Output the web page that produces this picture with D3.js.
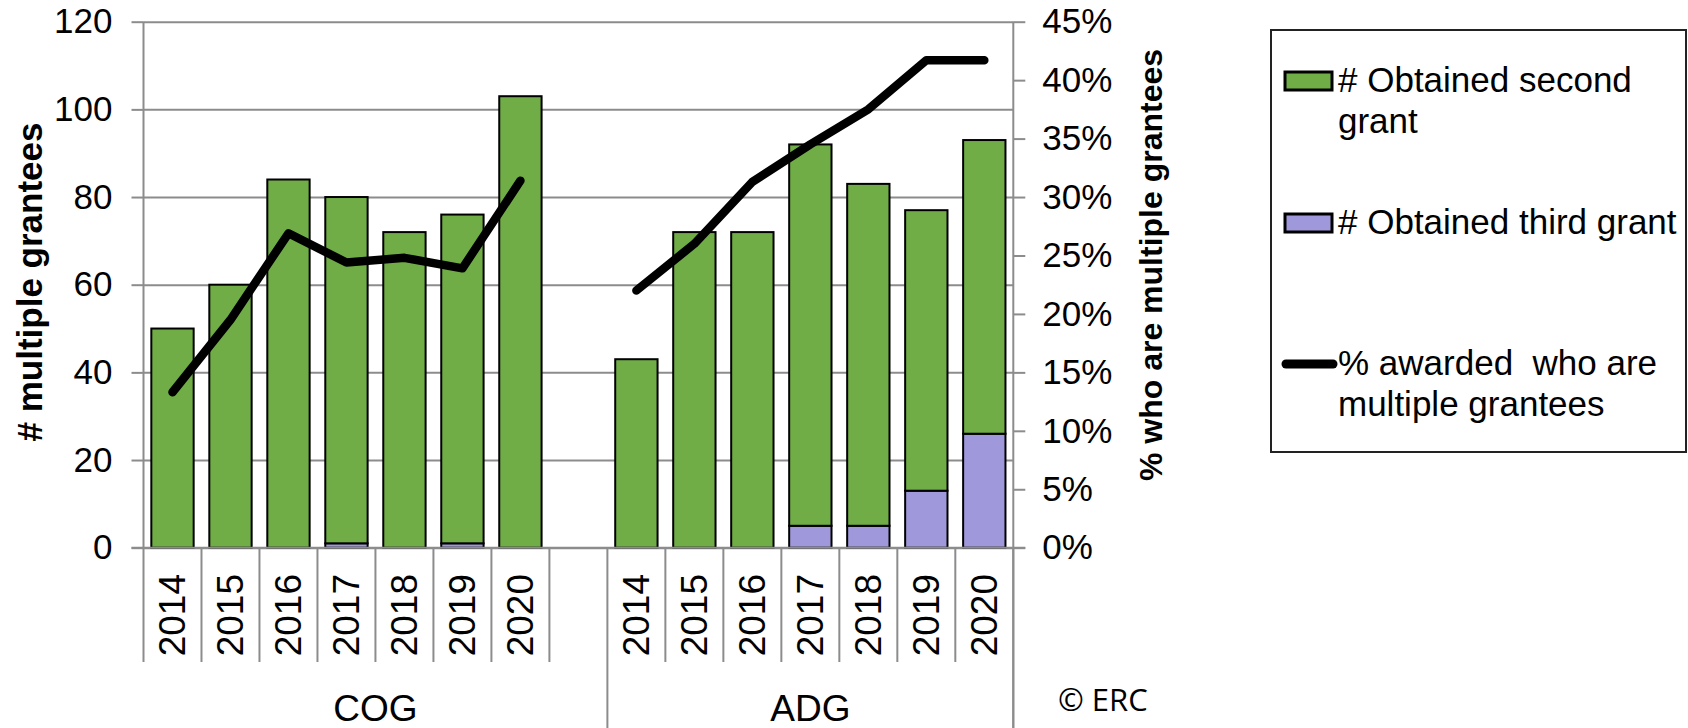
<!DOCTYPE html>
<html lang="en">
<head>
<meta charset="UTF-8">
<title>Multiple grantees</title>
<script src="https://cdn.jsdelivr.net/npm/d3@7"></script>
<style>
    body { margin: 0; background: #fff; }
    .axis text { font-family: "Liberation Sans", Arial, sans-serif; font-size: 35px; fill: #000; }
    .axis path { display: none; }
    .axis line { stroke: #8c8c8c; stroke-width: 2px; }
</style>
</head>
<body>
<script>
// data
const groups = ["COG", "ADG"];
const years = ["2014", "2015", "2016", "2017", "2018", "2019", "2020"];
const cogSecond = [50, 60, 84, 79, 72, 75, 103];
const cogThird  = [0, 0, 0, 1, 0, 1, 0];
const adgSecond = [43, 72, 72, 87, 78, 64, 67];
const adgThird  = [0, 0, 0, 5, 5, 13, 26];
const cogPct = [13.3, 19.5, 26.9, 24.4, 24.8, 23.9, 31.4];
const adgPct = [22.0, 26.0, 31.3, 34.5, 37.5, 41.7, 41.7];
const leftTicks = [0, 20, 40, 60, 80, 100, 120];
const rightTicks = [0, 5, 10, 15, 20, 25, 30, 35, 40, 45];
const seriesNames = ["# Obtained second grant", "# Obtained third grant", "% awarded  who are multiple grantees"];

const W = 1688, H = 728;
const pLeft = 143.5, pRight = 1013.3, pTop = 21.7, pBottom = 547.7;

const svg = d3.select("body").append("svg")
    .attr("width", W).attr("height", H);

// one row per slot, with an empty slot after COG
let rows = [];
const byGroup = {COG: [cogSecond, cogThird, cogPct], ADG: [adgSecond, adgThird, adgPct]};
groups.forEach((g, gi) => {
    years.forEach((y, i) => {
        rows.push({key: g + " " + y, group: g, year: y,
            second: byGroup[g][0][i], third: byGroup[g][1][i], pct: byGroup[g][2][i]});
    });
    if (gi == 0) rows.push({key: g + " blank", group: g, year: null, second: 0, third: 0, pct: null});
});

const x = d3.scaleBand()
    .domain(rows.map(d => d.key))
    .range([pLeft, pRight])
    .paddingInner(0.27)
    .paddingOuter(0.135);
const y = d3.scaleLinear().domain([0, 120]).range([pBottom, pTop]);
const yR = d3.scaleLinear().domain([0, 45]).range([pBottom, pTop]);

// gridlines
svg.append("g")
    .attr("class", "axis")
    .attr("transform", "translate(" + pLeft + ",0)")
    .call(d3.axisLeft(y).tickValues(leftTicks).tickSize(-(pRight - pLeft)).tickFormat(""));

// left axis
svg.append("g")
    .attr("class", "axis")
    .attr("transform", "translate(" + pLeft + ",0)")
    .call(d3.axisLeft(y).tickValues(leftTicks).tickSize(12).tickPadding(19));

// right axis
svg.append("g")
    .attr("class", "axis")
    .attr("transform", "translate(" + pRight + ",0)")
    .call(d3.axisRight(yR).tickValues(rightTicks).tickSize(12).tickPadding(17).tickFormat(d => d + "%"));

// axis lines
svg.append("line").attr("x1", pLeft).attr("x2", pLeft).attr("y1", pTop).attr("y2", 662)
    .attr("stroke", "#8c8c8c").attr("stroke-width", 2);
svg.append("line").attr("x1", pRight).attr("x2", pRight).attr("y1", pTop).attr("y2", H)
    .attr("stroke", "#8c8c8c").attr("stroke-width", 2);

// category separators
const step = x.step();
d3.range(1, 16).forEach(i => {
    const xx = pLeft + i * step;
    svg.append("line").attr("x1", xx).attr("x2", xx)
        .attr("y1", pBottom).attr("y2", (i == 8 || i == 15) ? H : 662)
        .attr("stroke", "#8c8c8c").attr("stroke-width", 2);
});

// stacked bars
const stack = d3.stack().keys(["third", "second"]);
const stacked = stack(rows.filter(d => d.year));
const colors = {third: "#9f99db", second: "#70ad47"};

svg.append("g").selectAll("g")
    .data(stacked)
    .enter().append("g")
    .attr("fill", d => colors[d.key])
    .selectAll("rect")
    .data(d => d.filter(s => s[1] > s[0]))
    .enter().append("rect")
    .attr("x", d => x(d.data.key))
    .attr("width", x.bandwidth())
    .attr("y", d => y(d[1]))
    .attr("height", d => y(d[0]) - y(d[1]))
    .attr("stroke", "#000")
    .attr("stroke-width", 2);

// x axis line on top of bars
svg.append("line").attr("x1", pLeft - 12).attr("x2", pRight + 12).attr("y1", pBottom).attr("y2", pBottom)
    .attr("stroke", "#8c8c8c").attr("stroke-width", 2);

// line series per group
const line = d3.line()
    .x(d => x(d.key) + x.bandwidth() / 2)
    .y(d => yR(d.pct));
groups.forEach(g => {
    svg.append("path")
        .datum(rows.filter(d => d.group == g && d.year))
        .attr("d", line)
        .attr("fill", "none")
        .attr("stroke", "#000")
        .attr("stroke-width", 8.5)
        .attr("stroke-linejoin", "round")
        .attr("stroke-linecap", "round");
});

// year labels
svg.append("g").selectAll("text")
    .data(rows.filter(d => d.year))
    .enter().append("text")
    .attr("transform", d => "translate(" + (x(d.key) + x.bandwidth() / 2) + ",574) rotate(-90)")
    .attr("text-anchor", "end")
    .attr("dy", "0.35em")
    .style("font-family", "Liberation Sans, Arial, sans-serif")
    .style("font-size", "37px")
    .text(d => d.year);

// group labels
const groupCenter = {COG: pLeft + 4 * step, ADG: pLeft + 11.5 * step};
svg.append("g").selectAll("text")
    .data(groups)
    .enter().append("text")
    .attr("x", d => groupCenter[d])
    .attr("y", 721)
    .attr("text-anchor", "middle")
    .style("font-family", "Liberation Sans, Arial, sans-serif")
    .style("font-size", "37px")
    .text(d => d);

// axis titles
svg.append("text")
    .attr("transform", "translate(30,282) rotate(-90)")
    .attr("text-anchor", "middle")
    .attr("dy", "0.35em")
    .style("font-family", "Liberation Sans, Arial, sans-serif")
    .style("font-size", "35px")
    .style("font-weight", "bold")
    .text("# multiple grantees");

svg.append("text")
    .attr("transform", "translate(1151,265) rotate(-90)")
    .attr("text-anchor", "middle")
    .attr("dy", "0.35em")
    .style("font-family", "Liberation Sans, Arial, sans-serif")
    .style("font-size", "32px")
    .style("font-weight", "bold")
    .text("% who are multiple grantees");

// legend
const lg = svg.append("g");
lg.append("rect").attr("x", 1271).attr("y", 30).attr("width", 415).attr("height", 422)
    .attr("fill", "#fff").attr("stroke", "#222").attr("stroke-width", 2);
const legendRows = [
    {name: seriesNames[0], type: "second", y: 72, lines: ["# Obtained second", "grant"]},
    {name: seriesNames[1], type: "third", y: 214, lines: ["# Obtained third grant"]},
    {name: seriesNames[2], type: "line", y: 355, lines: ["% awarded  who are", "multiple grantees"]}
];
legendRows.forEach(r => {
    if (r.type == "line") {
        lg.append("line").attr("x1", 1286).attr("x2", 1333).attr("y1", r.y + 9).attr("y2", r.y + 9)
            .attr("stroke", "#000").attr("stroke-width", 9).attr("stroke-linecap", "round");
    } else {
        lg.append("rect").attr("x", 1285).attr("y", r.y).attr("width", 47).attr("height", 18)
            .attr("fill", colors[r.type]).attr("stroke", "#000").attr("stroke-width", 3);
    }
    const t = lg.append("text")
        .attr("x", 1338).attr("y", r.y + 20)
        .style("font-family", "Liberation Sans, Arial, sans-serif")
        .style("font-size", "35px")
        .style("white-space", "pre");
    r.lines.forEach((ln, i) => {
        t.append("tspan").attr("x", 1338).attr("dy", i == 0 ? 0 : 41).text(ln);
    });
});

// copyright
svg.append("text")
    .attr("x", 1058).attr("y", 711)
    .style("font-family", "Open Sans, sans-serif")
    .style("font-size", "31px")
    .text("© ERC");
</script>
</body>
</html>
